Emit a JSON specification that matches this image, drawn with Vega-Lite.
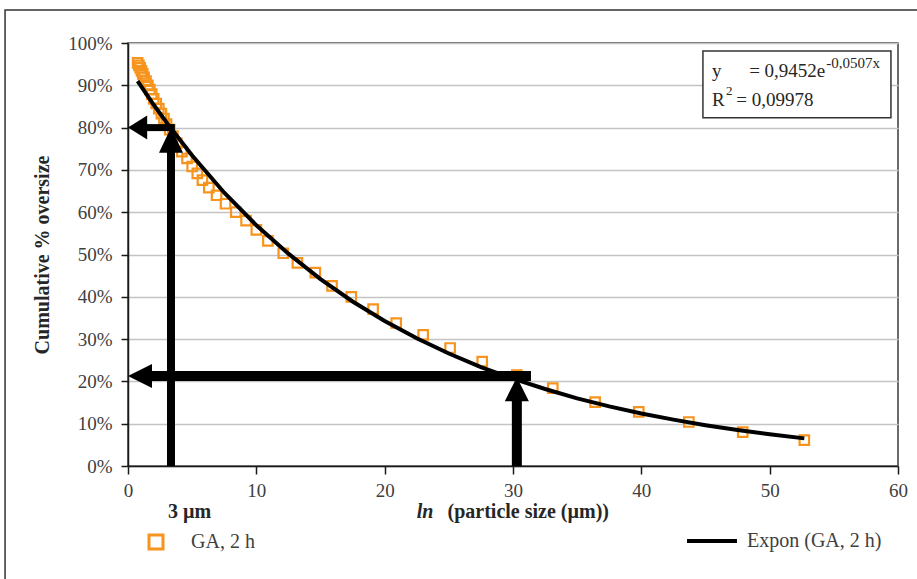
{
  "$schema": "https://vega.github.io/schema/vega-lite/v6.json",
  "width": 770,
  "height": 423,
  "autosize": {"type": "none"},
  "padding": {"left": 128, "top": 43, "right": 19, "bottom": 113},
  "background": "white",
  "config": {
    "font": "Liberation Serif",
    "view": {"stroke": "#3a3a3a", "strokeWidth": 1.5},
    "axis": {
      "labelFont": "Liberation Serif",
      "labelFontSize": 19,
      "labelColor": "#404040",
      "labelFlush": false,
      "domainColor": "#1a1a1a",
      "domainWidth": 1.5,
      "tickColor": "#1a1a1a",
      "tickWidth": 1.5,
      "gridColor": "#c4c4c4",
      "gridWidth": 1.5,
      "titleFont": "Liberation Serif",
      "titleFontSize": 20,
      "titleFontWeight": "bold",
      "titleColor": "#262626"
    },
    "legend": {"labelFont": "Liberation Serif", "labelFontSize": 20, "labelColor": "#404040", "padding": 0}
  },
  "datasets": {
    "one": [{}],
    "ga": [
      {"x": 0.75, "y": 95.3, "series": "GA, 2 h"},
      {"x": 0.85, "y": 94.7, "series": "GA, 2 h"},
      {"x": 0.95, "y": 94.1, "series": "GA, 2 h"},
      {"x": 1.05, "y": 93.4, "series": "GA, 2 h"},
      {"x": 1.15, "y": 92.7, "series": "GA, 2 h"},
      {"x": 1.25, "y": 91.9, "series": "GA, 2 h"},
      {"x": 1.4, "y": 91.0, "series": "GA, 2 h"},
      {"x": 1.55, "y": 90.0, "series": "GA, 2 h"},
      {"x": 1.7, "y": 89.0, "series": "GA, 2 h"},
      {"x": 1.85, "y": 87.9, "series": "GA, 2 h"},
      {"x": 2.0, "y": 86.8, "series": "GA, 2 h"},
      {"x": 2.2, "y": 85.7, "series": "GA, 2 h"},
      {"x": 2.4, "y": 84.5, "series": "GA, 2 h"},
      {"x": 2.6, "y": 83.3, "series": "GA, 2 h"},
      {"x": 2.8, "y": 82.1, "series": "GA, 2 h"},
      {"x": 3.0, "y": 80.8, "series": "GA, 2 h"},
      {"x": 3.25, "y": 79.5, "series": "GA, 2 h"},
      {"x": 3.5, "y": 78.0, "series": "GA, 2 h"},
      {"x": 3.8, "y": 76.3, "series": "GA, 2 h"},
      {"x": 4.2, "y": 74.3, "series": "GA, 2 h"},
      {"x": 4.6, "y": 72.7, "series": "GA, 2 h"},
      {"x": 5.0, "y": 70.8, "series": "GA, 2 h"},
      {"x": 5.4, "y": 69.2, "series": "GA, 2 h"},
      {"x": 5.8, "y": 67.6, "series": "GA, 2 h"},
      {"x": 6.3, "y": 65.8, "series": "GA, 2 h"},
      {"x": 6.9, "y": 64.0, "series": "GA, 2 h"},
      {"x": 7.6, "y": 62.0, "series": "GA, 2 h"},
      {"x": 8.4, "y": 60.0, "series": "GA, 2 h"},
      {"x": 9.2, "y": 58.0, "series": "GA, 2 h"},
      {"x": 10.0, "y": 55.8, "series": "GA, 2 h"},
      {"x": 10.9, "y": 53.2, "series": "GA, 2 h"},
      {"x": 12.1, "y": 50.3, "series": "GA, 2 h"},
      {"x": 13.2, "y": 48.0, "series": "GA, 2 h"},
      {"x": 14.6, "y": 45.7, "series": "GA, 2 h"},
      {"x": 15.9, "y": 42.6, "series": "GA, 2 h"},
      {"x": 17.4, "y": 40.0, "series": "GA, 2 h"},
      {"x": 19.1, "y": 37.1, "series": "GA, 2 h"},
      {"x": 20.9, "y": 33.8, "series": "GA, 2 h"},
      {"x": 23.0, "y": 31.0, "series": "GA, 2 h"},
      {"x": 25.1, "y": 27.9, "series": "GA, 2 h"},
      {"x": 27.6, "y": 24.7, "series": "GA, 2 h"},
      {"x": 30.3, "y": 21.5, "series": "GA, 2 h"},
      {"x": 33.1, "y": 18.4, "series": "GA, 2 h"},
      {"x": 36.4, "y": 15.1, "series": "GA, 2 h"},
      {"x": 39.8, "y": 12.8, "series": "GA, 2 h"},
      {"x": 43.7, "y": 10.4, "series": "GA, 2 h"},
      {"x": 47.9, "y": 8.0, "series": "GA, 2 h"},
      {"x": 52.7, "y": 6.1, "series": "GA, 2 h"}
    ],
    "fit": [
      {"x": 0.75, "y": 91.0, "series": "Expon (GA, 2 h)"},
      {"x": 2.0, "y": 85.4, "series": "Expon (GA, 2 h)"},
      {"x": 3.3, "y": 80.0, "series": "Expon (GA, 2 h)"},
      {"x": 5.0, "y": 73.4, "series": "Expon (GA, 2 h)"},
      {"x": 7.5, "y": 64.6, "series": "Expon (GA, 2 h)"},
      {"x": 10.0, "y": 56.9, "series": "Expon (GA, 2 h)"},
      {"x": 12.5, "y": 50.2, "series": "Expon (GA, 2 h)"},
      {"x": 15.0, "y": 44.2, "series": "Expon (GA, 2 h)"},
      {"x": 17.5, "y": 38.9, "series": "Expon (GA, 2 h)"},
      {"x": 20.0, "y": 34.3, "series": "Expon (GA, 2 h)"},
      {"x": 22.5, "y": 30.2, "series": "Expon (GA, 2 h)"},
      {"x": 25.0, "y": 26.6, "series": "Expon (GA, 2 h)"},
      {"x": 27.5, "y": 23.4, "series": "Expon (GA, 2 h)"},
      {"x": 30.0, "y": 20.65, "series": "Expon (GA, 2 h)"},
      {"x": 32.5, "y": 18.2, "series": "Expon (GA, 2 h)"},
      {"x": 35.0, "y": 16.0, "series": "Expon (GA, 2 h)"},
      {"x": 37.5, "y": 14.1, "series": "Expon (GA, 2 h)"},
      {"x": 40.0, "y": 12.4, "series": "Expon (GA, 2 h)"},
      {"x": 42.5, "y": 10.96, "series": "Expon (GA, 2 h)"},
      {"x": 45.0, "y": 9.65, "series": "Expon (GA, 2 h)"},
      {"x": 47.5, "y": 8.5, "series": "Expon (GA, 2 h)"},
      {"x": 50.0, "y": 7.49, "series": "Expon (GA, 2 h)"},
      {"x": 52.7, "y": 6.53, "series": "Expon (GA, 2 h)"}
    ]
  },
  "layer": [
    {
      "data": {"name": "ga"},
      "mark": {"type": "point", "shape": "square", "filled": false, "size": 90, "strokeWidth": 2.2, "opacity": 1},
      "encoding": {
        "x": {
          "field": "x", "type": "quantitative",
          "scale": {"domain": [0, 60], "nice": false, "zero": false},
          "axis": {"title": null, "values": [0, 10, 20, 30, 40, 50, 60], "grid": false, "tickSize": 8, "labelPadding": 7}
        },
        "y": {
          "field": "y", "type": "quantitative",
          "scale": {"domain": [0, 100], "nice": false},
          "axis": {"title": "Cumulative % oversize", "values": [0, 10, 20, 30, 40, 50, 60, 70, 80, 90, 100], "grid": true, "labelExpr": "datum.value + '%'", "tickSize": 7, "labelPadding": 9, "titlePadding": 15}
        },
        "color": {
          "field": "series", "type": "nominal",
          "scale": {"domain": ["GA, 2 h"], "range": ["#f7941d"]},
          "legend": {"orient": "none", "legendX": 18, "legendY": 489, "title": null, "symbolType": "square", "symbolSize": 196, "symbolStrokeWidth": 3, "labelOffset": 25}
        }
      }
    },
    {
      "data": {"name": "fit"},
      "mark": {"type": "line", "strokeWidth": 4},
      "encoding": {
        "x": {"field": "x", "type": "quantitative"},
        "y": {"field": "y", "type": "quantitative"},
        "color": {
          "field": "series", "type": "nominal",
          "scale": {"domain": ["Expon (GA, 2 h)"], "range": ["#000000"]},
          "legend": {"orient": "none", "legendX": 557, "legendY": 471, "title": null, "symbolType": "stroke", "symbolSize": 2500, "symbolStrokeWidth": 4, "labelOffset": 8}
        }
      }
    },
    {
      "data": {"name": "one"},
      "mark": {"type": "rule", "strokeWidth": 8, "color": "black", "strokeCap": "butt"},
      "encoding": {"x": {"datum": 3.35}, "y": {"datum": 0}, "y2": {"datum": 74.5}}
    },
    {
      "data": {"name": "one"},
      "mark": {"type": "rule", "strokeWidth": 7, "color": "black", "strokeCap": "butt"},
      "encoding": {"x": {"datum": 1.4}, "x2": {"datum": 3.65}, "y": {"datum": 80}}
    },
    {
      "data": {"name": "one"},
      "mark": {"type": "rule", "strokeWidth": 10, "color": "black", "strokeCap": "butt"},
      "encoding": {"x": {"datum": 1.8}, "x2": {"datum": 31.4}, "y": {"datum": 21.3}}
    },
    {
      "data": {"name": "one"},
      "mark": {"type": "rule", "strokeWidth": 10, "color": "black", "strokeCap": "butt"},
      "encoding": {"x": {"datum": 30.3}, "y": {"datum": 0}, "y2": {"datum": 15.8}}
    },
    {
      "data": {"name": "one"},
      "mark": {"type": "point", "shape": "M0,0L-1,2.1L1,2.1Z", "size": 576, "filled": true, "color": "black", "opacity": 1, "strokeWidth": 0},
      "encoding": {"x": {"datum": 3.35}, "y": {"datum": 80}}
    },
    {
      "data": {"name": "one"},
      "mark": {"type": "point", "shape": "M0,0L1.6,-1L1.6,1Z", "size": 576, "filled": true, "color": "black", "opacity": 1, "strokeWidth": 0},
      "encoding": {"x": {"datum": 0}, "y": {"datum": 80}}
    },
    {
      "data": {"name": "one"},
      "mark": {"type": "point", "shape": "M0,0L2,-1L2,1Z", "size": 576, "filled": true, "color": "black", "opacity": 1, "strokeWidth": 0},
      "encoding": {"x": {"datum": 0}, "y": {"datum": 21.3}}
    },
    {
      "data": {"name": "one"},
      "mark": {"type": "point", "shape": "M0,0L-1,2L1,2Z", "size": 576, "filled": true, "color": "black", "opacity": 1, "strokeWidth": 0},
      "encoding": {"x": {"datum": 30.3}, "y": {"datum": 21.0}}
    },
    {
      "data": {"name": "one"},
      "mark": {"type": "rect", "fill": "white", "stroke": "#333333", "strokeWidth": 1.5},
      "encoding": {"x": {"datum": 44.8}, "x2": {"datum": 59.45}, "y": {"datum": 98.1}, "y2": {"datum": 82.3}}
    },
    {
      "data": {"name": "one"},
      "mark": {"type": "text", "text": "y", "align": "left", "baseline": "alphabetic", "fontSize": 19, "color": "#262626"},
      "encoding": {"x": {"datum": 45.5}, "y": {"datum": 92.0}}
    },
    {
      "data": {"name": "one"},
      "mark": {"type": "text", "text": "= 0,9452e", "align": "left", "baseline": "alphabetic", "fontSize": 19, "color": "#262626"},
      "encoding": {"x": {"datum": 48.4}, "y": {"datum": 92.0}}
    },
    {
      "data": {"name": "one"},
      "mark": {"type": "text", "text": "-0,0507x", "align": "left", "baseline": "alphabetic", "fontSize": 15, "color": "#262626"},
      "encoding": {"x": {"datum": 54.4}, "y": {"datum": 94.1}}
    },
    {
      "data": {"name": "one"},
      "mark": {"type": "text", "text": "R", "align": "left", "baseline": "alphabetic", "fontSize": 19, "color": "#262626"},
      "encoding": {"x": {"datum": 45.5}, "y": {"datum": 85.1}}
    },
    {
      "data": {"name": "one"},
      "mark": {"type": "text", "text": "2", "align": "left", "baseline": "alphabetic", "fontSize": 13, "color": "#262626"},
      "encoding": {"x": {"datum": 46.6}, "y": {"datum": 87.7}}
    },
    {
      "data": {"name": "one"},
      "mark": {"type": "text", "text": "= 0,09978", "align": "left", "baseline": "alphabetic", "fontSize": 19, "color": "#262626"},
      "encoding": {"x": {"datum": 47.4}, "y": {"datum": 85.1}}
    },
    {
      "data": {"name": "one"},
      "mark": {"type": "text", "text": "3 µm", "align": "left", "baseline": "middle", "fontSize": 20, "fontWeight": "bold", "color": "#262626"},
      "encoding": {"x": {"datum": 3.12}, "y": {"datum": -10.9}}
    },
    {
      "data": {"name": "one"},
      "mark": {"type": "text", "text": "ln", "align": "left", "baseline": "middle", "fontSize": 20, "fontWeight": "bold", "fontStyle": "italic", "color": "#262626"},
      "encoding": {"x": {"datum": 22.5}, "y": {"datum": -10.9}}
    },
    {
      "data": {"name": "one"},
      "mark": {"type": "text", "text": "(particle size (µm))", "align": "left", "baseline": "middle", "fontSize": 20, "fontWeight": "bold", "color": "#262626"},
      "encoding": {"x": {"datum": 24.9}, "y": {"datum": -10.9}}
    },
    {
      "data": {"name": "one"},
      "mark": {"type": "rect", "filled": false, "color": "#333333", "strokeWidth": 1.5},
      "encoding": {"x": {"datum": -9.58}, "x2": {"datum": 62}, "y": {"datum": 107.8}, "y2": {"datum": -28}}
    }
  ],
  "resolve": {"scale": {"color": "independent"}, "legend": {"color": "independent"}}
}
